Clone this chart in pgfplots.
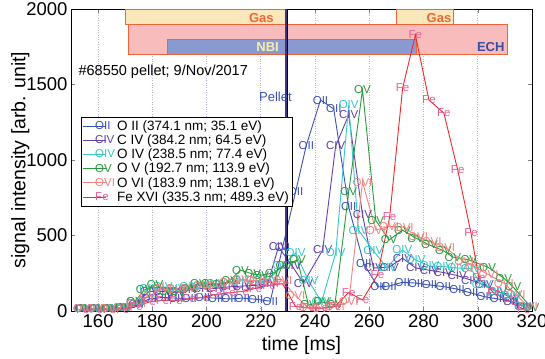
\documentclass[border=0pt]{standalone}
\usepackage{pgfplots}
\pgfplotsset{compat=1.18}
\usepackage{fontspec}
\setmainfont{Liberation Sans}

\definecolor{cOII}{RGB}{58,80,180}
\definecolor{cCIV}{RGB}{100,64,170}
\definecolor{cOIV}{RGB}{52,200,200}
\definecolor{cOV}{RGB}{40,154,60}
\definecolor{cOVI}{RGB}{244,130,130}
\definecolor{cFe}{RGB}{240,40,40}
\definecolor{cFeMark}{RGB}{226,96,150}
\definecolor{gasfill}{RGB}{251,232,186}
\definecolor{echfill}{RGB}{248,188,188}
\definecolor{nbifill}{RGB}{136,154,208}
\definecolor{spanedge}{RGB}{240,100,60}
\definecolor{gridblue}{RGB}{175,182,232}
\definecolor{pelletcol}{RGB}{70,50,130}

\pgfplotsset{
  line/.style n args={3}{color=#1, line width=0.9pt, mark=text, text mark={#2},
    text mark as node=true,
    text mark style={font=\fontsize{11.5}{11.5}\selectfont, inner sep=0pt},
    mark options={color=#3}},
}

\begin{document}
\begin{tikzpicture}
\begin{axis}[
  at={(0,0)}, anchor=south west,
  scale only axis, width=461pt, height=302pt,
  xmin=150, xmax=320, ymin=0, ymax=2000,
  xtick={160,180,...,320}, ytick={0,500,...,2000},
  xmajorgrids, grid style={dotted, color=gridblue, line width=0.8pt},
  tick align=inside, major tick length=4pt,
  axis line style={line width=0.6pt},
  tick label style={font=\fontsize{18.5}{18.5}\selectfont},
  /pgf/number format/assume math mode=true,
  /pgf/number format/1000 sep={},
  xlabel={time [ms]}, ylabel={signal intensity [arb. unit]},
  label style={font=\fontsize{19.5}{19.5}\selectfont},
  xlabel style={at={(axis description cs:0.5,-0.113)}, anchor=center},
  ylabel style={at={(axis description cs:-0.11,0.5)}, anchor=center},
  legend style={at={(0.022,0.642)}, anchor=north west, draw=black,
    line width=0.6pt, font=\fontsize{13.5}{13.5}\selectfont,
    inner sep=1.5pt, row sep=-1.2pt, cells={anchor=west}},
  legend image code/.code={\draw[mark repeat=2, mark phase=2, #1]
    plot coordinates {(0cm,0cm) (0.4cm,0cm) (0.8cm,0cm)};},
  clip=false,
]
% heating and fuelling periods
\addplot[fill=echfill, draw=spanedge, line width=0.8pt, forget plot]
  coordinates {(171.2,1702) (311.0,1702) (311.0,1901) (171.2,1901)} -- cycle;
\addplot[fill=nbifill, draw=spanedge, line width=0.8pt, forget plot]
  coordinates {(185.4,1702) (277.5,1702) (277.5,1800) (185.4,1800)} -- cycle;
\addplot[fill=gasfill, draw=spanedge, line width=0.8pt, forget plot]
  coordinates {(170.1,1901) (229.1,1901) (229.1,2000) (170.1,2000)} -- cycle;
\addplot[fill=gasfill, draw=spanedge, line width=0.8pt, forget plot]
  coordinates {(270.1,1901) (291.0,1901) (291.0,2000) (270.1,2000)} -- cycle;

\node[text=spanedge, font=\bfseries\fontsize{13}{13}\selectfont] at (axis cs:220.2,1940) {Gas};
\node[text=spanedge, font=\bfseries\fontsize{13}{13}\selectfont] at (axis cs:285.7,1940) {Gas};
\node[text={rgb,255:red,246;green,238;blue,176}, font=\bfseries\fontsize{13}{13}\selectfont] at (axis cs:222.5,1746) {NBI};
\node[text={rgb,255:red,58;green,77;blue,160}, font=\bfseries\fontsize{13}{13}\selectfont] at (axis cs:304.8,1746) {ECH};

% O II
\addplot[line={cOII}{OII}{cOII}] coordinates {
(154.4,15) (159.3,15) (164.2,18) (169.1,20) (174,40) (178.9,80) (183.8,90)
(188.7,85) (193.6,80) (198.5,90) (203.4,85) (208.3,80) (213.2,85) (218.1,78)
(223.5,65) (228,420) (232.8,788) (236.8,1099) (242,1397) (246.9,1338)
(252.4,689) (258,311) (263.2,160) (267.3,165) (272.2,190) (277.1,185)
(282.2,172) (287.3,162) (292.4,145) (297.4,120) (302.4,95) (307.3,80)
(312.2,65) (317.1,30)};
\addlegendentry{O II (374.1 nm; 35.1 eV)}

% C IV
\addplot[line={cCIV}{CIV}{cCIV}] coordinates {
(154.4,15) (159.3,15) (164.2,15) (169.1,20) (174,50) (178.9,130) (183.8,130)
(188.7,120) (193.6,140) (198.5,150) (203.4,150) (208.3,160) (213.2,165)
(218.1,170) (222.5,180) (226.5,424) (231.5,300) (235.7,185) (242.8,404)
(247.6,1093) (252.4,1298) (257.5,636) (261.5,285) (267.3,290) (272.2,350)
(277.1,285) (282.2,270) (287.3,255) (292.4,235) (297.4,205) (302.4,172)
(307.3,130) (312.2,90) (317.1,30)};
\addlegendentry{C IV (384.2 nm; 64.5 eV)}

% O IV
\addplot[line={cOIV}{OIV}{cOIV}] coordinates {
(154.4,15) (159.3,15) (164.2,15) (169.1,20) (174,60) (178.9,150) (183.8,160)
(188.7,150) (193.6,160) (198.5,170) (203.4,180) (208.3,190) (213.2,200)
(218.1,200) (223,210) (228,300) (232.8,384) (237.6,200) (242.4,60)
(247.6,384) (252.4,1364) (256,536) (261.5,400) (266.5,285) (272.2,404)
(277.1,338) (282.2,298) (287.3,295) (292.4,285) (297.4,280) (301.5,172)
(307.3,126) (312.2,100) (317.1,30)};
\addlegendentry{O IV (238.5 nm; 77.4 eV)}

% O V
\addplot[line={cOV}{OV}{cOV}] coordinates {
(154.4,15) (159.3,15) (164.2,15) (169.1,20) (173.5,60) (177,139) (181,172)
(185.5,126) (189.5,130) (193.5,150) (197,185) (201,185) (205,172) (208.5,200)
(212.5,271) (217,245) (220,238) (224.6,251) (228.5,300) (233.5,338)
(237.6,40) (242.4,60) (247.3,40) (252.4,788) (257.5,1464) (262.4,600)
(267.3,470) (272.2,536) (277.1,483) (282.2,437) (287.3,400) (290.8,357)
(296.7,338) (303.7,291) (309.6,218) (313,159) (319.6,26)};
\addlegendentry{O V (192.7 nm; 113.9 eV)}

% O VI
\addplot[line={cOVI}{OVI}{cOVI}] coordinates {
(154.4,15) (159.3,15) (164.2,15) (169.1,20) (174,50) (178.9,100) (183.8,150)
(188.7,140) (193.6,150) (198.5,160) (203.4,170) (208.3,190) (213.2,210)
(218.1,200) (223,190) (228,200) (232.8,100) (237.6,20) (242.4,15)
(247.3,30) (252.4,60) (257.5,854) (262.4,536) (267.3,560) (272.7,556)
(278,490) (283,457) (288,420) (295,325) (299,290) (304,240) (309.6,185)
(314,110) (318.5,30)};
\addlegendentry{O VI (183.9 nm; 138.1 eV)}

% Fe XVI
\addplot[line={cFe}{Fe}{cFeMark}] coordinates {
(154.4,10) (159.3,10) (164.2,10) (169.1,12) (174,30) (178.9,60) (183.8,70)
(188.7,70) (193.6,80) (198.5,90) (203.4,110) (208.3,120) (213.2,130)
(218.1,150) (223,170) (228,180) (232.8,30) (237.6,20) (242.4,20) (247.3,30)
(252.4,122) (257.5,73) (263,238) (267.5,622) (272.3,1477) (277,1828)
(282,1397) (287.5,1311) (292.6,934) (297.5,516) (300.4,218) (306,119)
(312,60) (317,10)};
\addlegendentry{Fe XVI (335.3 nm; 489.3 eV)}

% pellet injection time
\addplot[color=black, line width=3.6pt, forget plot] coordinates {(229.4,0) (229.4,2000)};
\addplot[color=pelletcol, line width=2.2pt, forget plot] coordinates {(229.4,0) (229.4,2000)};

\node[anchor=west, font=\fontsize{14.5}{14.5}\selectfont] at (axis cs:151.5,1583) {\#68550 pellet; 9/Nov/2017};
\node[text=cOII, font=\fontsize{13}{13}\selectfont] at (axis cs:225.4,1417) {Pellet};
\end{axis}
\pgfresetboundingbox
\path (-71pt,-47pt) rectangle (474pt,311pt);
\end{tikzpicture}
\end{document}
